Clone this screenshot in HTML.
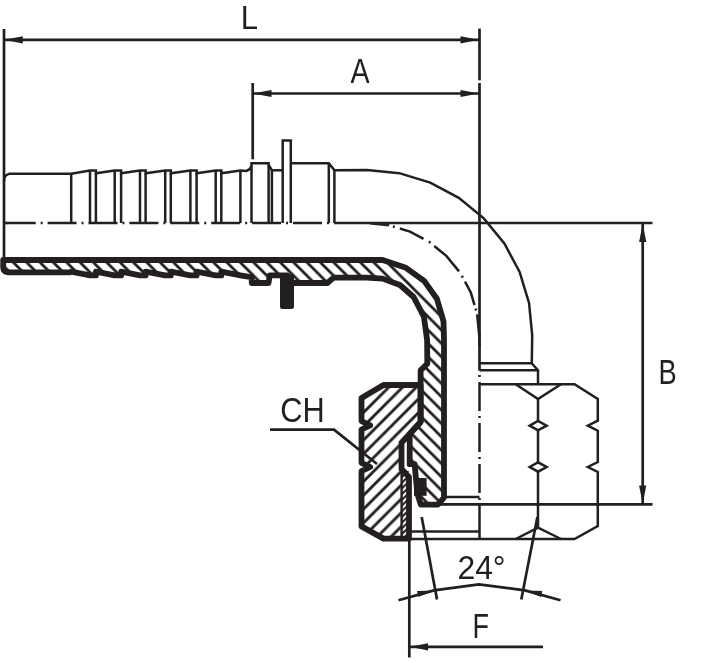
<!DOCTYPE html>
<html><head><meta charset="utf-8"><title>Fitting drawing</title>
<style>html,body{margin:0;padding:0;background:#fff}body{width:713px;height:663px;overflow:hidden}</style>
</head><body>
<svg width="713" height="663" viewBox="0 0 713 663" stroke="#231f20" fill="none" font-family="'Liberation Sans', sans-serif" style="display:block">
<defs>
<pattern id="hb" patternUnits="userSpaceOnUse" width="13.35" height="13.35" patternTransform="translate(-262.4 0)">
<path d="M-1,-1 L14.35,14.35 M-1,12.35 L1,14.35 M12.35,-1 L14.35,1" stroke="#231f20" stroke-width="2.8" fill="none"/></pattern>
<pattern id="hf" patternUnits="userSpaceOnUse" width="13.8" height="13.8" patternTransform="translate(776.0 0)">
<path d="M-1,14.8 L14.8,-1 M-1,1 L1,-1 M12.8,14.8 L14.8,12.8" stroke="#231f20" stroke-width="2.8" fill="none"/></pattern>
<pattern id="ht" patternUnits="userSpaceOnUse" width="5.7" height="5.7" patternTransform="translate(1.2 0)">
<path d="M-1,6.7 L6.7,-1 M-1,1 L1,-1 M4.7,6.7 L6.7,4.7" stroke="#231f20" stroke-width="2.1" fill="none"/></pattern>
</defs>
<rect width="713" height="663" fill="#fff" stroke="none"/>
<g stroke="#231f20" stroke-linecap="butt">
<path d="M4.00,181.00 L4.40,177.60 L6.20,175.20 L9.50,173.70 L71.20,173.70 L90.00,170.60 L95.90,170.60 L95.90,173.20 L114.70,170.60 L121.10,170.60 L121.10,173.20 L140.00,170.60 L145.60,170.60 L145.60,173.20 L165.20,170.60 L170.80,170.60 L170.80,173.20 L190.40,170.60 L196.60,170.60 L196.60,173.20 L215.70,170.60 L221.30,170.60 L221.30,173.20 L240.40,170.60 L246.50,170.90 L249.60,169.20 L251.50,166.20" stroke-width="2.5" fill="none" />
<line x1="71.2" y1="173.39999999999998" x2="71.2" y2="223.0" stroke-width="2.5" />
<line x1="95.9" y1="173.39999999999998" x2="95.9" y2="223.0" stroke-width="2.5" />
<line x1="121.1" y1="173.39999999999998" x2="121.1" y2="223.0" stroke-width="2.5" />
<line x1="145.6" y1="173.39999999999998" x2="145.6" y2="223.0" stroke-width="2.5" />
<line x1="170.8" y1="173.39999999999998" x2="170.8" y2="223.0" stroke-width="2.5" />
<line x1="196.6" y1="173.39999999999998" x2="196.6" y2="223.0" stroke-width="2.5" />
<line x1="221.3" y1="173.39999999999998" x2="221.3" y2="223.0" stroke-width="2.5" />
<line x1="90" y1="170.6" x2="90" y2="223.0" stroke-width="2.5" />
<line x1="114.7" y1="170.6" x2="114.7" y2="223.0" stroke-width="2.5" />
<line x1="140" y1="170.6" x2="140" y2="223.0" stroke-width="2.5" />
<line x1="165.2" y1="170.6" x2="165.2" y2="223.0" stroke-width="2.5" />
<line x1="190.4" y1="170.6" x2="190.4" y2="223.0" stroke-width="2.5" />
<line x1="215.7" y1="170.6" x2="215.7" y2="223.0" stroke-width="2.5" />
<line x1="240.4" y1="170.6" x2="240.4" y2="223.0" stroke-width="2.5" />
<path d="M251.50,223.00 L251.50,163.20 L268.60,163.20 L268.60,223.00" stroke-width="2.5" fill="none" />
<path d="M268.60,165.00 L271.90,170.30 L271.90,223.00" stroke-width="2.5" fill="none" />
<path d="M271.90,170.30 L282.70,170.30" stroke-width="2.5" fill="none" />
<path d="M282.70,223.00 L282.70,140.40 L290.80,140.40 L290.80,223.00" stroke-width="2.5" fill="none" />
<path d="M290.80,163.20 L328.80,163.20 L334.40,170.20 L334.40,223.00" stroke-width="2.5" fill="none" />
<line x1="328.8" y1="163.2" x2="328.8" y2="223.0" stroke-width="2.5" />
<path d="M334.40,170.20 L367.00,170.00 L399.23,173.17 L430.22,182.58 L458.78,197.84 L483.81,218.39 L504.36,243.42 L519.62,271.98 L529.03,302.97 L532.20,335.20 L531.80,363.20" stroke-width="2.5" fill="none" />
<line x1="4" y1="223.0" x2="334.4" y2="223.0" stroke-width="2.5" stroke-dasharray="29 4.95 2 4.95" stroke-dashoffset="38.2"/>
<line x1="4" y1="223.0" x2="8" y2="223.0" stroke-width="2.5" />
<line x1="334.4" y1="223.0" x2="652.5" y2="223.0" stroke-width="2.7" />
<path d="M367.00,223.00 L388.89,225.16 L409.94,231.54 L429.33,241.91 L446.34,255.86 L460.29,272.87 L470.66,292.26 L477.04,313.31 L479.20,335.20 L479.50,346.00" stroke-width="2.5" fill="none" stroke-dasharray="0 3 19.2 4 2 5.2 26 6.1 2 4.8 35.7 5.4 2 4.6 25.3 3.7 2 4 100 0"/>
<line x1="4" y1="29" x2="4" y2="258" stroke-width="2.7" />
<line x1="4" y1="39.8" x2="479.5" y2="39.8" stroke-width="2.7" />
<polygon points="4.30,39.80 22.80,36.20 22.80,43.40" fill="#231f20" stroke="none"/>
<polygon points="479.00,39.80 460.50,43.40 460.50,36.20" fill="#231f20" stroke="none"/>
<line x1="479.5" y1="28.6" x2="479.5" y2="80.3" stroke-width="2.7" />
<line x1="479.5" y1="83" x2="479.5" y2="370.5" stroke-width="2.7" />
<line x1="479.5" y1="370.5" x2="479.5" y2="539.0" stroke-width="2.5" stroke-dasharray="0 4.5 2 5 29 5 2 5 29 5 2 5 29 5 2 5 40 0"/>
<line x1="252.7" y1="83" x2="252.7" y2="159.3" stroke-width="2.7" />
<line x1="252.7" y1="93.5" x2="479.5" y2="93.5" stroke-width="2.7" />
<polygon points="253.00,93.50 271.50,89.90 271.50,97.10" fill="#231f20" stroke="none"/>
<polygon points="479.00,93.50 460.50,97.10 460.50,89.90" fill="#231f20" stroke="none"/>
<line x1="642.7" y1="223.0" x2="642.7" y2="504.4" stroke-width="2.7" />
<polygon points="642.70,223.40 646.30,241.90 639.10,241.90" fill="#231f20" stroke="none"/>
<polygon points="642.70,504.00 639.10,485.50 646.30,485.50" fill="#231f20" stroke="none"/>
<line x1="440" y1="504.4" x2="652.5" y2="504.4" stroke-width="2.7" />
<line x1="409.3" y1="538" x2="409.3" y2="657.5" stroke-width="2.7" />
<line x1="409.3" y1="646.8" x2="543" y2="646.8" stroke-width="2.7" />
<polygon points="409.60,646.80 428.10,643.20 428.10,650.40" fill="#231f20" stroke="none"/>
<line x1="421.7" y1="517" x2="437" y2="599.5" stroke-width="2.7" />
<line x1="537.4" y1="517" x2="521.3" y2="599.5" stroke-width="2.7" />
<path d="M398.50,600.30 L434.00,590.40 L478.90,584.30 L525.00,590.40 L560.50,600.30" stroke-width="2.7" fill="none" />
<polygon points="434.30,590.60 418.24,596.97 417.02,590.89" fill="#231f20" stroke="none"/>
<polygon points="525.00,590.60 542.28,590.89 541.06,596.97" fill="#231f20" stroke="none"/>
<path d="M270.00,429.70 L334.00,429.70 L377.00,464.00" stroke-width="2.7" fill="none" />
<path d="M479.50,363.20 L531.60,363.20 L538.00,370.20 L538.00,384.20" stroke-width="2.5" fill="none" />
<line x1="479.5" y1="370.2" x2="538" y2="370.2" stroke-width="2.5" />
<path d="M479.50,384.20 L574.50,384.20 L597.80,399.00 L597.80,420.70 L587.80,425.70 L597.80,430.70 L597.80,462.00 L587.80,467.00 L597.80,472.00 L597.80,526.00 L574.50,539.00 L410.00,539.00" stroke-width="2.5" fill="none" />
<line x1="538" y1="399" x2="538" y2="421" stroke-width="2.5" />
<line x1="538" y1="430.4" x2="538" y2="462.3" stroke-width="2.5" />
<line x1="538" y1="471.7" x2="538" y2="527.6" stroke-width="2.5" />
<path d="M515.70,384.20 L538.00,399.00 L561.00,384.20" stroke-width="2.5" fill="none" />
<path d="M515.70,539.00 L538.00,527.60 L561.00,539.00" stroke-width="2.5" fill="none" />
<path d="M529.70,425.70 L538.00,421.00 L546.60,425.70 L538.00,430.40 Z" stroke-width="2.5" fill="none" />
<path d="M529.70,467.00 L538.00,462.30 L546.60,467.00 L538.00,471.70 Z" stroke-width="2.5" fill="none" />
<line x1="446" y1="497" x2="479.5" y2="497" stroke-width="2.5" />
<line x1="410.5" y1="531.4" x2="479.5" y2="531.4" stroke-width="2.5" />
<path d="M3.20,260.00 L382.60,260.00 L405.20,267.40 L424.10,280.90 L436.90,298.80 L443.50,321.40 L444.00,340.00 L444.00,497.60 L437.80,504.70 L420.80,504.70 L417.30,493.30 L414.60,464.20 L409.70,464.20 L409.70,434.00 L420.60,422.00 L420.60,370.40 L427.30,363.80 L427.10,340.00 L423.90,316.70 L413.60,297.00 L400.00,285.00 L382.60,278.60 L366.40,277.60 L333.60,277.60 L327.40,283.00 L287.00,283.00 L287.00,275.30 L269.60,275.30 L268.60,283.00 L251.80,283.00 L251.60,276.90 L248.00,276.70 L240.40,275.40 L221.30,271.70 L221.30,275.40 L215.70,275.40 L196.60,271.70 L196.60,275.40 L190.40,275.40 L170.80,271.70 L170.80,275.40 L165.20,275.40 L145.60,271.70 L145.60,275.40 L140.00,275.40 L121.10,271.70 L121.10,275.40 L114.70,275.40 L95.90,271.70 L95.90,275.40 L90.00,275.40 L71.20,271.70 L70.00,272.30 L8.00,272.30 L5.20,271.60 L3.60,269.90 L3.20,267.30 Z" fill="url(#hb)" stroke="none"/>
<line x1="404" y1="265.9" x2="440" y2="301.9" stroke="#fff" stroke-width="5.5"/>
<path d="M3.20,260.00 L382.60,260.00 L405.20,267.40 L424.10,280.90 L436.90,298.80 L443.50,321.40 L444.00,340.00 L444.00,497.60 L437.80,504.70 L420.80,504.70 L417.30,493.30 L414.60,464.20 L409.70,464.20 L409.70,434.00 L420.60,422.00 L420.60,370.40 L427.30,363.80 L427.10,340.00 L423.90,316.70 L413.60,297.00 L400.00,285.00 L382.60,278.60 L366.40,277.60 L333.60,277.60 L327.40,283.00 L287.00,283.00 L287.00,275.30 L269.60,275.30 L268.60,283.00 L251.80,283.00 L251.60,276.90 L248.00,276.70 L240.40,275.40 L221.30,271.70 L221.30,275.40 L215.70,275.40 L196.60,271.70 L196.60,275.40 L190.40,275.40 L170.80,271.70 L170.80,275.40 L165.20,275.40 L145.60,271.70 L145.60,275.40 L140.00,275.40 L121.10,271.70 L121.10,275.40 L114.70,275.40 L95.90,271.70 L95.90,275.40 L90.00,275.40 L71.20,271.70 L70.00,272.30 L8.00,272.30 L5.20,271.60 L3.60,269.90 L3.20,267.30 Z" fill="none" stroke-width="5.8" stroke-linejoin="round"/>
<rect x="281.0" y="275" width="12.0" height="33.0" rx="1.5" fill="#231f20" stroke-width="2" stroke-linejoin="round"/>
<rect x="414.0" y="478.0" width="12.6" height="17.8" fill="#231f20" stroke="none"/>
<path d="M383.50,385.00 L420.60,385.00 L420.60,422.00 L401.50,442.70 L401.50,469.00 L409.00,477.00 L409.00,538.60 L383.50,538.60 L361.50,526.40 L361.50,471.20 L370.20,467.00 L361.50,462.80 L361.50,429.50 L370.20,425.30 L361.50,421.10 L361.50,398.00 Z" fill="url(#hf)" stroke="none"/>
<rect x="401.5" y="471" width="7.5" height="67" fill="#fff" stroke="none"/>
<rect x="401.5" y="471" width="7.5" height="67" fill="url(#ht)" stroke="none"/>
<line x1="401.6" y1="470" x2="401.6" y2="537" stroke-width="2.4" />
<path d="M383.50,385.00 L420.60,385.00 L420.60,422.00 L401.50,442.70 L401.50,469.00 L409.00,477.00 L409.00,538.60 L383.50,538.60 L361.50,526.40 L361.50,471.20 L370.20,467.00 L361.50,462.80 L361.50,429.50 L370.20,425.30 L361.50,421.10 L361.50,398.00 Z" fill="none" stroke-width="5.8" stroke-linejoin="round"/>
</g>
<g fill="#231f20" stroke="none" opacity="0.999">
<text transform="translate(240.65 29.00) scale(0.9134 1)" font-size="34.01">L</text>
<text transform="translate(350.44 82.80) scale(0.8390 1)" font-size="34.16">A</text>
<text transform="translate(658.57 383.90) scale(0.7813 1)" font-size="34.88">B</text>
<text transform="translate(472.59 637.70) scale(0.7903 1)" font-size="34.16">F</text>
<text transform="translate(280.23 421.80) scale(0.8977 1)" font-size="34.30">CH</text>
<text transform="translate(457.41 578.90) scale(0.9455 1)" font-size="33.72">24°</text>
</g>
</svg>
</body></html>
